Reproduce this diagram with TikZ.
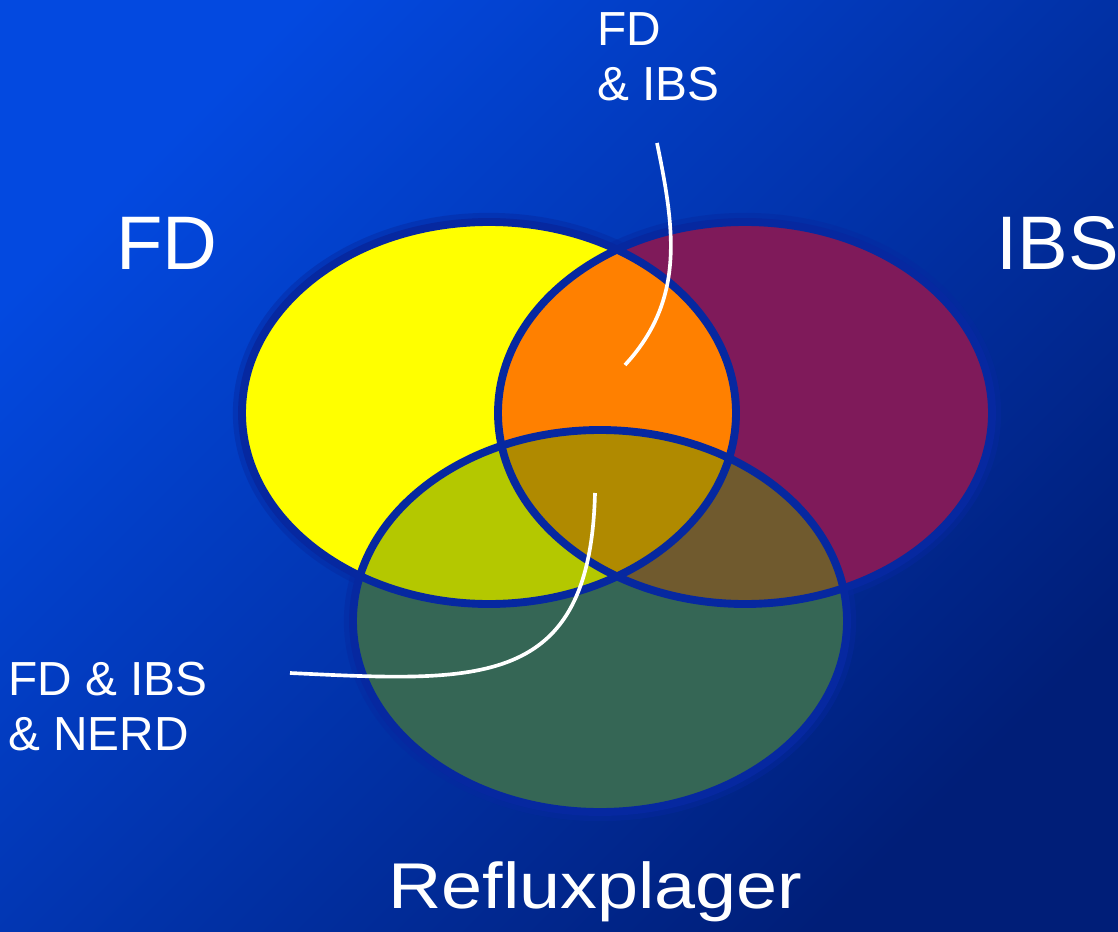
\documentclass[tikz,border=0pt]{standalone}
\usepackage{fontspec}
\setmainfont{Liberation Sans}
\usetikzlibrary{positioning}
\definecolor{bgTop}{HTML}{0349E0}
\definecolor{bgBottom}{HTML}{001E78}
\definecolor{ringBlue}{HTML}{0628A0}
\definecolor{fdYellow}{HTML}{FFFF00}
\definecolor{ibsPlum}{HTML}{7F1A5A}
\definecolor{refluxGreen}{HTML}{356655}
\definecolor{fdIbsOrange}{HTML}{FF8000}
\definecolor{fdRefluxLime}{HTML}{B4C800}
\definecolor{ibsRefluxBrown}{HTML}{705A2E}
\definecolor{allOchre}{HTML}{B08A00}

\begin{document}
\begin{tikzpicture}[
    x=0.025cm, y=-0.025cm,
    ring/.style={draw=ringBlue, line width=5.6pt},
    halo/.style={draw=ringBlue, draw opacity=0.45, line width=13pt},
    biglabel/.style={text=white, font=\fontsize{54}{60}\selectfont, anchor=base west, inner sep=0pt},
    smalllabel/.style={text=white, font=\fontsize{34}{39}\selectfont, anchor=north west, inner sep=0pt, align=left},
    pointer/.style={draw=white, line width=2.6pt},
]
    \useasboundingbox (0,0) rectangle (1118,932);
    % Background
    \shade[top color=bgTop, bottom color=bgBottom, shading angle=45] (0,0) rectangle (1118,932);

    % Centres
    \def\rx{247}
    \def\ry{191}
    \coordinate (fd) at (489,413);
    \coordinate (ibs) at (745,413);
    \coordinate (reflux) at (600,621);

    % Sets
    \foreach \c in {fd, ibs, reflux}
        \draw[halo] (\c) ellipse [x radius=\rx, y radius=\ry];
    \fill[fdYellow] (fd) ellipse [x radius=\rx, y radius=\ry];
    \fill[ibsPlum] (ibs) ellipse [x radius=\rx, y radius=\ry];
    \fill[refluxGreen] (reflux) ellipse [x radius=\rx, y radius=\ry];
    \begin{scope}
        \clip (ibs) ellipse [x radius=\rx, y radius=\ry];
        \fill[ibsRefluxBrown] (reflux) ellipse [x radius=\rx, y radius=\ry];
    \end{scope}
    \begin{scope}
        \clip (fd) ellipse [x radius=\rx, y radius=\ry];
        \fill[fdIbsOrange] (ibs) ellipse [x radius=\rx, y radius=\ry];
        \fill[fdRefluxLime] (reflux) ellipse [x radius=\rx, y radius=\ry];
        \clip (ibs) ellipse [x radius=\rx, y radius=\ry];
        \fill[allOchre] (reflux) ellipse [x radius=\rx, y radius=\ry];
    \end{scope}
    \foreach \c in {fd, ibs, reflux}
        \draw[ring] (\c) ellipse [x radius=\rx, y radius=\ry];

    % Labels
    \node[biglabel] (fd-label) at (116,269) {FD};
    \node[biglabel] (ibs-label) at (996,269) {IBS};
    \node[biglabel, font=\fontsize{46}{52}\selectfont] (reflux-label) at (388,908) {\scalebox{1.14}[1]{Refluxplager}};
    \node[smalllabel] (fdibs-label) at (597,12) {FD\\\& IBS};
    \node[smalllabel] (all-label) at (8,662) {FD \& IBS\\\& NERD};

    % Pointers
    \coordinate (fdibs-tip) at (657,143);
    \coordinate (fdibs-end) at (625,365);
    \coordinate (all-end) at (595,493);
    \coordinate (all-tip) at (290,673);
    \draw[pointer] (fdibs-tip) .. controls (675,230) and (685,300) .. (fdibs-end);
    \draw[pointer] (all-end) .. controls (590,690) and (480,682) .. (all-tip);
\end{tikzpicture}
\end{document}
